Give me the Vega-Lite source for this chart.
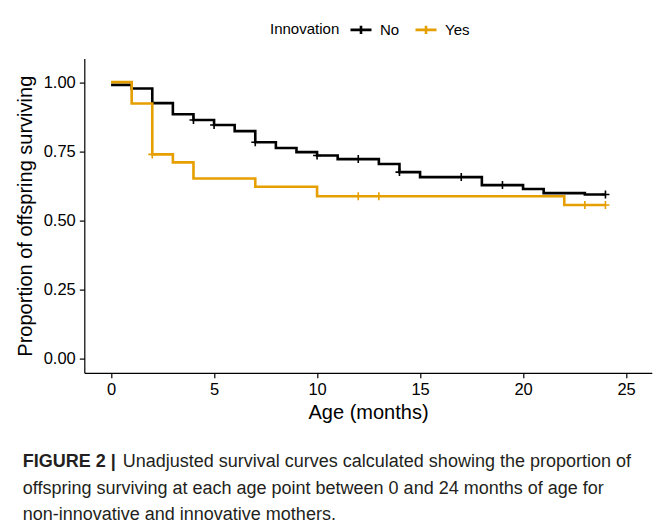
{
  "$schema": "https://vega.github.io/schema/vega-lite/v6.json",
  "width": 567.5,
  "height": 314.2,
  "autosize": {"type": "none"},
  "padding": {"left": 84.3, "top": 58.6, "right": 2.2, "bottom": 156.2},
  "background": "white",
  "datasets": {
    "curves": [
      {"group": "No", "t": 0, "s": 0.99},
      {"group": "No", "t": 1, "s": 0.977},
      {"group": "No", "t": 2, "s": 0.924},
      {"group": "No", "t": 3, "s": 0.884},
      {"group": "No", "t": 4, "s": 0.863},
      {"group": "No", "t": 5, "s": 0.845},
      {"group": "No", "t": 6, "s": 0.823},
      {"group": "No", "t": 7, "s": 0.783},
      {"group": "No", "t": 8, "s": 0.762},
      {"group": "No", "t": 9, "s": 0.747},
      {"group": "No", "t": 10, "s": 0.735},
      {"group": "No", "t": 11, "s": 0.722},
      {"group": "No", "t": 13, "s": 0.704},
      {"group": "No", "t": 14, "s": 0.675},
      {"group": "No", "t": 15, "s": 0.657},
      {"group": "No", "t": 18, "s": 0.628},
      {"group": "No", "t": 20, "s": 0.614},
      {"group": "No", "t": 21, "s": 0.599},
      {"group": "No", "t": 23, "s": 0.594},
      {"group": "No", "t": 24, "s": 0.594},
      {"group": "Yes", "t": 0, "s": 1.0},
      {"group": "Yes", "t": 1, "s": 0.923},
      {"group": "Yes", "t": 2, "s": 0.739},
      {"group": "Yes", "t": 3, "s": 0.71},
      {"group": "Yes", "t": 4, "s": 0.652},
      {"group": "Yes", "t": 7, "s": 0.622},
      {"group": "Yes", "t": 10, "s": 0.588},
      {"group": "Yes", "t": 22, "s": 0.556},
      {"group": "Yes", "t": 24, "s": 0.556}
    ],
    "censor": [
      {"group": "No", "t": 4, "s": 0.863},
      {"group": "No", "t": 5, "s": 0.845},
      {"group": "No", "t": 7, "s": 0.783},
      {"group": "No", "t": 10, "s": 0.735},
      {"group": "No", "t": 12, "s": 0.722},
      {"group": "No", "t": 14, "s": 0.675},
      {"group": "No", "t": 17, "s": 0.657},
      {"group": "No", "t": 19, "s": 0.628},
      {"group": "No", "t": 24, "s": 0.594},
      {"group": "Yes", "t": 2, "s": 0.739},
      {"group": "Yes", "t": 12, "s": 0.588},
      {"group": "Yes", "t": 13, "s": 0.588},
      {"group": "Yes", "t": 23, "s": 0.556},
      {"group": "Yes", "t": 24, "s": 0.556}
    ]
  },
  "title": {
    "text": "FIGURE 2 |",
    "subtitle": [
      "\u200b\u00a0\u00a0\u00a0\u00a0\u00a0\u00a0\u00a0\u00a0\u00a0\u00a0\u00a0\u00a0\u00a0\u00a0\u00a0\u00a0\u00a0\u00a0\u00a0\u00a0Unadjusted survival curves calculated showing the proportion of",
      "offspring surviving at each age point between 0 and 24 months of age for",
      "non-innovative and innovative mothers."
    ],
    "orient": "bottom",
    "anchor": "start",
    "frame": "group",
    "dx": -61.6,
    "offset": 31,
    "font": "Liberation Sans",
    "fontSize": 18,
    "fontWeight": "bold",
    "color": "#231f20",
    "subtitleFont": "Liberation Sans",
    "subtitleFontSize": 18,
    "subtitleFontWeight": "normal",
    "subtitleColor": "#231f20",
    "subtitleLineHeight": 26.5,
    "subtitlePadding": -18
  },
  "encoding": {
    "x": {
      "field": "t",
      "type": "quantitative",
      "scale": {"domain": [-1.3, 26.25], "nice": false, "zero": false},
      "axis": {"values": [0, 5, 10, 15, 20, 25], "title": "Age (months)"}
    },
    "y": {
      "field": "s",
      "type": "quantitative",
      "scale": {"domain": [-0.05, 1.085], "nice": false, "zero": false},
      "axis": {"values": [0, 0.25, 0.5, 0.75, 1], "format": ".2f", "title": "Proportion of offspring surviving"}
    },
    "color": {
      "field": "group",
      "type": "nominal",
      "scale": {"domain": ["No", "Yes"], "range": ["#000000", "#E69F00"]},
      "legend": {
        "title": "Innovation",
        "orient": "none",
        "direction": "horizontal",
        "legendX": 185.7,
        "legendY": -41,
        "titleOrient": "left"
      }
    }
  },
  "layer": [
    {
      "data": {"name": "curves"},
      "mark": {"type": "line", "interpolate": "step-after", "strokeWidth": 2.6}
    },
    {
      "data": {"name": "censor"},
      "mark": {"type": "point", "shape": "M-1,0H1M0,-1V1", "filled": false, "size": 64, "strokeWidth": 1.6, "opacity": 1}
    }
  ],
  "config": {
    "font": "Liberation Sans",
    "view": {"stroke": null},
    "axis": {
      "grid": false,
      "domainColor": "#000000",
      "domainWidth": 1.2,
      "tickColor": "#000000",
      "tickWidth": 1.2,
      "tickSize": 5,
      "labelColor": "#000000",
      "labelFontSize": 16.5,
      "labelFont": "Liberation Sans",
      "titleFont": "Liberation Sans",
      "titleFontSize": 20,
      "titleFontWeight": "normal",
      "titleColor": "#000000"
    },
    "axisX": {"labelPadding": 4, "titlePadding": 4},
    "axisY": {"labelPadding": 4, "titlePadding": 8},
    "legend": {
      "titleFontSize": 15,
      "titleFontWeight": "normal",
      "titleColor": "#000000",
      "titleFont": "Liberation Sans",
      "labelFontSize": 15,
      "labelFont": "Liberation Sans",
      "labelColor": "#000000",
      "symbolType": "M-1,0H1M0,-0.4V0.4",
      "symbolSize": 441,
      "symbolStrokeWidth": 2.6,
      "labelOffset": 7,
      "columnPadding": 10,
      "titlePadding": 9
    }
  }
}
